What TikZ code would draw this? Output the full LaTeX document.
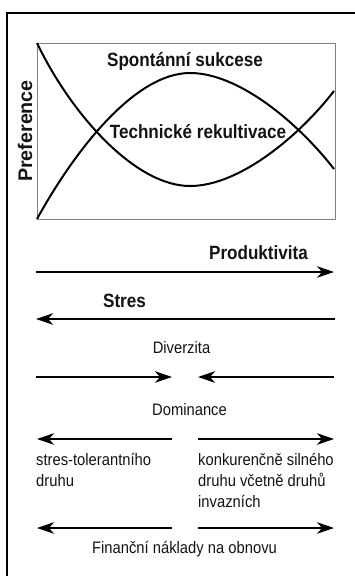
\documentclass[tikz,border=0pt]{standalone}
\usepackage{fontspec}
\setmainfont{Liberation Sans}[FakeStretch=0.89]
\newfontfamily\axisfont{Liberation Sans}
\usetikzlibrary{arrows.meta}

\tikzset{
  frame/.style={line width=1.3pt, black},
  plotbox/.style={draw=black!50, line width=0.9pt},
  curve/.style={line width=2pt, black},
  flow/.style={line width=1.9pt, black, -{Stealth[length=17pt,width=11.5pt,inset=5pt]}},
  lbl/.style={font=\fontsize{16.6}{21}\selectfont, inner sep=0pt, text=black!92},
  blbl/.style={font=\bfseries\fontsize{19.2}{22}\selectfont, inner sep=0pt, text=black!92},
  axislbl/.style={font=\axisfont\bfseries\fontsize{19.7}{22}\selectfont, inner sep=0pt, text=black!92},
}

\begin{document}
\begin{tikzpicture}[x=1pt,y=-1pt]
\useasboundingbox (0,0) rectangle (355,576);
\fill[white] (0,0) rectangle (355,576);

% outer frame (top and left edges)
\coordinate (fr-tr) at (355,13);
\coordinate (fr-tl) at (7,13);
\coordinate (fr-bl) at (7,576);
\draw[frame] (fr-tr) -- (fr-tl) -- (fr-bl);

% preference chart
\draw[plotbox] (37,43) rectangle (335,219);
% succession curve (hump)
\coordinate (h0) at (37,219);
\coordinate (h1) at (190,73);
\coordinate (h2) at (334,169);
\draw[curve] (h0) .. controls (75,150) and (135,73) .. (h1)
                  .. controls (240,73) and (300,125) .. (h2);
% reclamation curve (bowl)
\coordinate (b0) at (37,43);
\coordinate (b1) at (190,186);
\coordinate (b2) at (334,91);
\draw[curve] (b0) .. controls (71,114) and (135,186) .. (b1)
                  .. controls (240,186) and (300,135) .. (b2);

\node[blbl, anchor=base] (spont) at (185,66) {Spontánní sukcese};
\node[blbl, anchor=base] (tech) at (198,138) {Technické rekultivace};
\node[axislbl, anchor=base, rotate=90] (pref) at (32,131) {Preference};

% gradients
\node[blbl, anchor=base] (prod) at (258.5,259) {Produktivita};
\coordinate (prod-a) at (36,272);
\coordinate (prod-b) at (334,272);
\draw[flow] (prod-a) -- (prod-b);

\node[blbl, anchor=base] (stres) at (124.5,307) {Stres};
\coordinate (stres-a) at (335,319);
\coordinate (stres-b) at (36,319);
\draw[flow] (stres-a) -- (stres-b);

\node[lbl, anchor=base] (div) at (181.5,353) {Diverzita};
\coordinate (div-l) at (36,377);
\coordinate (div-lt) at (172,377);
\coordinate (div-r) at (334,377);
\coordinate (div-rt) at (198,377);
\draw[flow] (div-l) -- (div-lt);
\draw[flow] (div-r) -- (div-rt);

\node[lbl, anchor=base] (dom) at (189.5,415) {Dominance};
\coordinate (dom-l) at (172,439);
\coordinate (dom-lt) at (37,439);
\coordinate (dom-r) at (198,439);
\coordinate (dom-rt) at (334,439);
\draw[flow] (dom-l) -- (dom-lt);
\draw[flow] (dom-r) -- (dom-rt);

\node[lbl, anchor=base west] (st1) at (36,465) {stres-tolerantního};
\node[lbl, anchor=base west] (st2) at (36,486) {druhu};
\node[lbl, anchor=base west] (ko1) at (198,465) {konkurenčně silného};
\node[lbl, anchor=base west] (ko2) at (198,486) {druhu včetně druhů};
\node[lbl, anchor=base west] (ko3) at (198,507) {invazních};

\coordinate (fin-l) at (172,528);
\coordinate (fin-lt) at (37,528);
\coordinate (fin-r) at (198,528);
\coordinate (fin-rt) at (334,528);
\draw[flow] (fin-l) -- (fin-lt);
\draw[flow] (fin-r) -- (fin-rt);
\node[lbl, anchor=base] (fin) at (184.5,553) {Finanční náklady na obnovu};
\end{tikzpicture}
\end{document}
